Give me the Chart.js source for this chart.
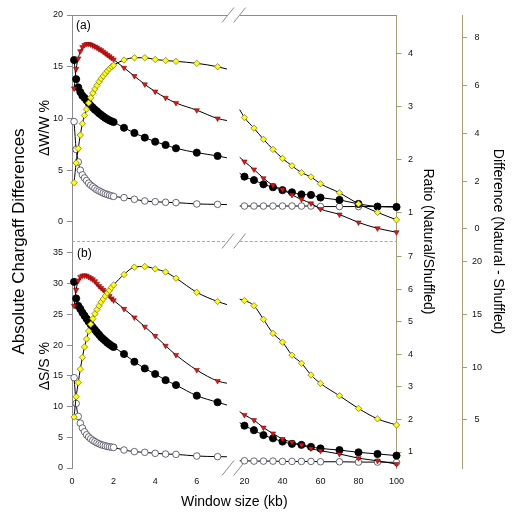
<!DOCTYPE html>
<html>
<head>
<meta charset="utf-8">
<style>
html,body{margin:0;padding:0;background:#fff;}
#wrap{position:relative;width:513px;height:514px;}
canvas{display:block;}
</style>
<script src="https://cdn.jsdelivr.net/npm/chart.js@4.4.0/dist/chart.umd.min.js"></script>
</head>
<body>
<div id="wrap"><canvas id="c" width="513" height="514"></canvas></div>
<script>
// ---------------- data ----------------
// window sizes (kb), left part of the broken axis (last entry = end of fitted curve, no marker)
const xLeft = [0.1,0.2,0.3,0.4,0.5,0.6,0.7,0.8,0.9,1.0,1.1,1.2,1.3,1.4,1.5,1.6,1.7,1.8,1.9,2.0,2.5,3,3.5,4,4.5,5,6,7,7.45];
// window sizes (kb), right part of the broken axis (first entry = start of fitted curve, no marker)
const xRight = [17.5,20,25,30,35,40,45,50,55,60,70,80,90,100];

// panel (a): ΔW/W %  (left part)
const aNaturalL   = [15.65,13.8,13.0,12.55,12.2,12.0,11.75,11.5,11.25,11.05,10.85,10.7,10.5,10.35,10.2,10.05,9.93,9.82,9.73,9.65,9.1,8.6,8.15,7.76,7.44,7.12,6.7,6.38,6.2];
const aShuffledL  = [9.7,7.0,5.8,5.0,4.55,4.25,4.0,3.75,3.55,3.4,3.25,3.1,3.0,2.9,2.8,2.72,2.65,2.58,2.52,2.47,2.35,2.19,2.03,1.96,1.9,1.87,1.74,1.7,1.68];
const aDiffL      = [12.9,14.8,15.8,16.5,16.9,17.1,17.2,17.2,17.15,17.05,16.95,16.85,16.7,16.6,16.45,16.3,16.15,16.0,15.85,15.7,14.9,14.1,13.3,12.6,12.0,11.5,10.8,10.0,9.8];
const aRatioL     = [3.8,5.7,7.1,8.4,9.5,10.3,10.9,11.5,12.0,12.45,12.85,13.2,13.55,13.85,14.1,14.35,14.6,14.8,15.0,15.15,15.65,15.87,15.87,15.7,15.6,15.52,15.33,15.0,14.78];
// panel (a): right part, on the ratio axis
const aNaturalR   = [1.75,1.685,1.62,1.54,1.485,1.43,1.39,1.35,1.34,1.29,1.245,1.17,1.12,1.11];
const aShuffledR  = [1.13,1.13,1.13,1.13,1.13,1.13,1.13,1.13,1.13,1.12,1.12,1.12,1.12,1.12];
const aDiffR      = [2.05,1.97,1.82,1.655,1.52,1.44,1.34,1.255,1.18,1.075,0.97,0.82,0.71,0.635];
const aRatioR     = [2.95,2.80,2.60,2.39,2.20,2.03,1.89,1.76,1.68,1.55,1.38,1.17,1.01,0.87];

// panel (b): ΔS/S %  (left part)
const bNaturalL   = [30.3,27.6,26.4,25.9,25.3,24.8,24.3,23.8,23.35,22.9,22.5,22.1,21.7,21.3,21.0,20.7,20.4,20.15,19.9,19.7,18.55,17.3,16.2,15.3,14.3,13.5,11.77,10.7,10.25];
const bShuffledL  = [14.7,10.5,8.4,7.3,6.5,5.9,5.4,5.05,4.75,4.5,4.3,4.1,3.95,3.8,3.7,3.6,3.52,3.45,3.4,3.35,2.93,2.66,2.55,2.39,2.28,2.22,1.95,1.85,1.83];
const bDiffL      = [26.4,29.0,30.5,31.1,31.3,31.35,31.3,31.1,30.9,30.7,30.4,30.0,29.6,29.3,29.0,28.7,28.3,28.0,27.6,27.3,25.9,24.5,23.0,21.5,19.9,18.4,15.95,14.16,13.8];
const bRatioL     = [8.3,11.6,13.9,16.1,18.0,19.7,21.0,22.3,23.4,24.3,25.1,25.8,26.4,27.0,27.5,28.0,28.5,28.9,29.4,29.8,31.5,32.7,32.8,32.4,31.9,30.9,28.6,27.1,26.6];
// panel (b): right part, on the ratio axis
const bNaturalR   = [1.9,1.81,1.67,1.52,1.42,1.32,1.25,1.22,1.16,1.11,1.06,0.99,0.94,0.89];
const bShuffledR  = [0.73,0.73,0.72,0.72,0.72,0.71,0.71,0.71,0.71,0.70,0.70,0.69,0.69,0.68];
const bDiffR      = [2.24,2.14,1.98,1.75,1.57,1.40,1.30,1.22,1.11,1.04,0.94,0.81,0.73,0.63];
const bRatioR     = [5.7,5.66,5.5,5.08,4.65,4.38,3.98,3.73,3.37,3.11,2.73,2.34,2.02,1.83];

// tick labels
const xTicksLeft  = [0,2,4,6];
const xTicksRight = [20,40,60,80,100];
const yTicksA     = [0,5,10,15,20];
const yTicksB     = [0,5,10,15,20,25,30,35];
const ratioTicksA = [1,2,3,4];
const ratioTicksB = [1,2,3,4,5,6,7];
const diffTicksA  = [0,2,4,6,8];
const diffTicksB  = [5,10,15,20];
const breakAt     = [7.5, 17.5];   // axis break: end of left part, start of right part (kb)

// ---------------- styling ----------------
const FONT = '"Liberation Sans", Arial, Helvetica, sans-serif';
const GREY = '#8c8c8c';
const OLIVE = '#a39f72';
const tickFont = {family: FONT, size: 9};

const STY = {
  natural:  {shape: 'circle',   r: 3.6, fill: '#000000', edge: '#000000', bw: 0.8},
  shuffled: {shape: 'circle',   r: 3.3, fill: '#ffffff', edge: '#444455', bw: 0.8},
  diff:     {shape: 'triangle', r: 3.1, fill: '#ee1111', edge: '#600000', bw: 0.5, rot: 180},
  ratio:    {shape: 'rectRot',  r: 3.2, fill: '#ffff00', edge: '#6a6a40', bw: 0.7}
};

const datasets = [];
function addSeries(xs, ys, sty, xAxisID, yAxisID, noMarkIdx) {
  datasets.push({
    data: xs.map((x, i) => ({x: x, y: ys[i]})),
    xAxisID: xAxisID, yAxisID: yAxisID,
    borderColor: '#000', borderWidth: 1, fill: false,
    cubicInterpolationMode: 'monotone',
    pointStyle: sty.shape, pointRotation: sty.rot || 0,
    pointRadius: xs.map((_, i) => i === noMarkIdx ? 0 : sty.r),
    pointBackgroundColor: sty.fill, pointBorderColor: sty.edge, pointBorderWidth: sty.bw,
    clip: false
  });
}
const endL = xLeft.length - 1, startR = 0;
// panel (a)
addSeries(xLeft, aRatioL, STY.ratio, 'xL', 'yA', endL);
addSeries(xLeft, aDiffL, STY.diff, 'xL', 'yA', endL);
addSeries(xLeft, aNaturalL, STY.natural, 'xL', 'yA', endL);
addSeries(xLeft, aShuffledL, STY.shuffled, 'xL', 'yA', endL);
addSeries(xRight, aRatioR, STY.ratio, 'xR', 'rA', startR);
addSeries(xRight, aDiffR, STY.diff, 'xR', 'rA', startR);
addSeries(xRight, aNaturalR, STY.natural, 'xR', 'rA', startR);
addSeries(xRight, aShuffledR, STY.shuffled, 'xR', 'rA', startR);
// panel (b)
addSeries(xLeft, bRatioL, STY.ratio, 'xL', 'yB', endL);
addSeries(xLeft, bDiffL, STY.diff, 'xL', 'yB', endL);
addSeries(xLeft, bNaturalL, STY.natural, 'xL', 'yB', endL);
addSeries(xLeft, bShuffledL, STY.shuffled, 'xL', 'yB', endL);
addSeries(xRight, bRatioR, STY.ratio, 'xR', 'rB', startR);
addSeries(xRight, bDiffR, STY.diff, 'xR', 'rB', startR);
addSeries(xRight, bNaturalR, STY.natural, 'xR', 'rB', startR);
addSeries(xRight, bShuffledR, STY.shuffled, 'xR', 'rB', startR);

// ---------------- axes ----------------
const fixedTicks = arr => s => { s.ticks = arr.map(v => ({value: v})); };
const forceW = w => s => { s.width = w; };
const forceH = h => s => { s.height = h; };

function valueAxis(o) {
  return {
    type: 'linear', position: o.position, stack: o.stack, stackWeight: o.stackWeight, weight: o.weight,
    min: o.min, max: o.max,
    afterBuildTicks: fixedTicks(o.ticks),
    afterFit: forceW(o.width),
    ticks: {font: tickFont, color: '#111', padding: o.pad, crossAlign: o.crossAlign || 'near', autoSkip: false},
    grid: {display: true, drawOnChartArea: false, drawTicks: true, tickLength: 5, color: o.color, lineWidth: 1},
    border: {display: true, color: o.color, width: 1},
    title: o.title ? {display: true, text: o.title, color: '#000', font: {family: FONT, size: 14}, padding: {top: o.titlePad, bottom: 0}} : {display: false}
  };
}
function xAxis(o) {
  return {
    type: 'linear', position: 'bottom', stack: 'x', stackWeight: o.stackWeight, weight: o.weight,
    min: o.min, max: o.max,
    afterBuildTicks: fixedTicks(o.ticks),
    afterFit: forceH(22),
    ticks: {font: tickFont, color: '#111', padding: 0, autoSkip: false, maxRotation: 0},
    grid: {display: false}, border: {display: false}
  };
}
function titleAxis(position, text, size, extent, pad, weight) {
  const horiz = position === 'bottom';
  return {
    type: 'linear', position: position, weight: weight,
    ticks: {display: false}, grid: {display: false}, border: {display: false},
    title: {display: true, text: text, color: '#000', font: {family: FONT, size: size},
            padding: horiz ? {top: 0, bottom: pad} : {top: pad, bottom: 0}},
    afterFit: horiz ? forceH(extent) : forceW(extent)
  };
}

const scales = {
  xL: xAxis({stackWeight: 162, weight: 1, min: 0, max: 7.79, ticks: xTicksLeft}),
  xR: xAxis({stackWeight: 162.5, weight: 1.1, min: 14.5, max: 100, ticks: xTicksRight}),
  xTitle: titleAxis('bottom', 'Window size (kb)', 14, 24, 3.6, 2),
  yTitle: titleAxis('left', 'Absolute Chargaff Differences', 17, 30, 8.8, 2),
  yA: valueAxis({position: 'left', stack: 'left', stackWeight: 226, weight: 1.1, min: -1.84, max: 20, ticks: yTicksA,
                 width: 42, pad: 4, color: GREY, title: 'ΔW/W %', titlePad: 6.6}),
  yB: valueAxis({position: 'left', stack: 'left', stackWeight: 227, weight: 1.0, min: 0, max: 36.95, ticks: yTicksB,
                 width: 42, pad: 4, color: GREY, title: 'ΔS/S %      ', titlePad: 6.6}),
  rA: valueAxis({position: 'right', stack: 'ratio', stackWeight: 226, weight: 1.0, min: 0.47, max: 4.736, ticks: ratioTicksA,
                 width: 24, pad: 6.5, color: OLIVE}),
  rB: valueAxis({position: 'right', stack: 'ratio', stackWeight: 227, weight: 1.1, min: 0.508, max: 7.49, ticks: ratioTicksB,
                 width: 24, pad: 6.5, color: OLIVE}),
  ratioTitle: titleAxis('right', 'Ratio (Natural/Shuffled)', 14, 41.5, 25.6, 2),
  dA: valueAxis({position: 'right', stack: 'diff', stackWeight: 226, weight: 3.0, min: -0.503, max: 8.96, ticks: diffTicksA,
                 width: 28, pad: 7.5, crossAlign: 'center', color: OLIVE}),
  dB: valueAxis({position: 'right', stack: 'diff', stackWeight: 227, weight: 3.1, min: 0.443, max: 21.99, ticks: diffTicksB,
                 width: 28, pad: 5, crossAlign: 'center', color: OLIVE}),
  diffTitle: titleAxis('right', 'Difference (Natural - Shuffled)', 14, 23, 6.6, 4)
};

// ---------------- frame decorations: broken axis, panel borders, panel letters ----------------
const frame = {
  id: 'frame',
  beforeDatasetsDraw(chart) {
    const {ctx, chartArea: ca, scales: s} = chart;
    const bx1 = s.xL.getPixelForValue(breakAt[0]);
    const bx2 = s.xR.getPixelForValue(breakAt[1]);
    const yMid = s.yA.bottom;
    const seg = (x1, y1, x2, y2) => { ctx.beginPath(); ctx.moveTo(x1, y1); ctx.lineTo(x2, y2); ctx.stroke(); };
    ctx.save();
    ctx.strokeStyle = GREY; ctx.lineWidth = 1;
    seg(ca.left, ca.top + 0.5, bx1, ca.top + 0.5);
    seg(bx2, ca.top + 0.5, ca.right, ca.top + 0.5);
    ctx.strokeStyle = '#a8a8a8';
    ctx.setLineDash([3, 2]);
    seg(ca.left, yMid + 0.5, bx1, yMid + 0.5);
    seg(bx2, yMid + 0.5, ca.right, yMid + 0.5);
    ctx.setLineDash([]);
    ctx.strokeStyle = GREY;
    [ca.top, yMid, ca.bottom].forEach(y => {
      [bx1, bx2].forEach(x => seg(x - 6, y + 7.5, x + 6, y - 7.5));
    });
    ctx.fillStyle = '#000';
    ctx.font = '12px ' + FONT;
    ctx.textBaseline = 'middle';
    ctx.textAlign = 'left';
    ctx.fillText('(a)', ca.left + 4, ca.top + 11);
    ctx.fillText('(b)', ca.left + 5, yMid + 13);
    ctx.restore();
  }
};

Chart.defaults.font.family = FONT;
new Chart(document.getElementById('c'), {
  type: 'line',
  data: {datasets: datasets},
  options: {
    responsive: false,
    animation: false,
    events: [],
    parsing: true,
    layout: {padding: {left: 0, right: 0, top: 15, bottom: 0}, autoPadding: false},
    plugins: {legend: {display: false}, tooltip: {enabled: false}},
    scales: scales
  },
  plugins: [frame]
});
</script>
</body>
</html>
